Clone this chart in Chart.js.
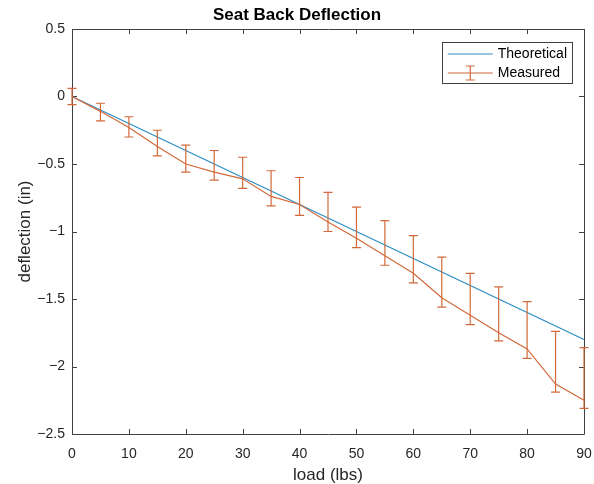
<!DOCTYPE html>
<html><head><meta charset="utf-8">
<script src="https://cdn.jsdelivr.net/npm/chart.js@4.4.0/dist/chart.umd.min.js"></script>
<style>html,body{margin:0;padding:0;background:#fff;}canvas{display:block;}</style>
</head><body>
<canvas id="c" width="594" height="484"></canvas>
<script>
// ---- data ----
const loads = [0, 5, 10, 15, 20, 25, 30, 35, 40, 45, 50, 55, 60, 65, 70, 75, 80, 85, 90];
const theoretical = [0, -0.1, -0.2, -0.3, -0.4, -0.5, -0.6, -0.7, -0.8, -0.9, -1.0, -1.1, -1.2, -1.3, -1.4, -1.5, -1.6, -1.7, -1.8];
const measured = [0, -0.11, -0.23, -0.37, -0.50, -0.56, -0.61, -0.74, -0.80, -0.93, -1.05, -1.18, -1.31, -1.49, -1.62, -1.75, -1.87, -2.13, -2.25];
const measuredUpper = [0.06, -0.05, -0.15, -0.25, -0.36, -0.40, -0.45, -0.55, -0.60, -0.71, -0.82, -0.92, -1.03, -1.19, -1.31, -1.41, -1.52, -1.74, -1.86];
const measuredLower = [-0.06, -0.18, -0.30, -0.44, -0.56, -0.62, -0.68, -0.81, -0.88, -1.00, -1.12, -1.25, -1.38, -1.56, -1.69, -1.81, -1.94, -2.19, -2.31];
const xTickValues = [0, 10, 20, 30, 40, 50, 60, 70, 80, 90];
const xTickLabels = ['0', '10', '20', '30', '40', '50', '60', '70', '80', '90'];
const yTickValues = [0.5, 0, -0.5, -1, -1.5, -2, -2.5];
const yTickLabels = ['0.5', '0', '\u22120.5', '\u22121', '\u22121.5', '\u22122', '\u22122.5'];
const seriesNames = ['Theoretical', 'Measured'];
const chartTitle = 'Seat Back Deflection';
const xTitle = 'load (lbs)';
const yTitle = 'deflection (in)';

// ---- styles ----
const FONT = "'Liberation Sans', Arial, Helvetica, sans-serif";
const BLUE = '#2B8CC4';
const ORANGE = '#D2693A';
const AXIS = '#404040';
const TEXT = '#262626';
const TICK_LEN = 5;
const CAP = 4.5;

const boxPlugin = {
  id: 'matlabBox',
  beforeDatasetsDraw(chart) {
    const {ctx, chartArea: a, scales: {x, y}} = chart;
    ctx.save();
    ctx.strokeStyle = AXIS;
    ctx.lineWidth = 1;
    ctx.beginPath();
    ctx.rect(Math.round(a.left) + 0.5, Math.round(a.top) + 0.5, Math.round(a.right - a.left), Math.round(a.bottom - a.top));
    xTickValues.forEach(v => {
      const px = Math.round(x.getPixelForValue(v)) + 0.5;
      ctx.moveTo(px, a.bottom); ctx.lineTo(px, a.bottom - TICK_LEN);
      ctx.moveTo(px, a.top); ctx.lineTo(px, a.top + TICK_LEN);
    });
    yTickValues.forEach(v => {
      const py = Math.round(y.getPixelForValue(v)) + 0.5;
      ctx.moveTo(a.left, py); ctx.lineTo(a.left + TICK_LEN, py);
      ctx.moveTo(a.right, py); ctx.lineTo(a.right - TICK_LEN, py);
    });
    ctx.stroke();
    ctx.restore();
  },
  afterDatasetsDraw(chart) {
    const {ctx, chartArea: a, scales: {x, y}} = chart;
    ctx.save();
    // error bars
    ctx.strokeStyle = ORANGE;
    ctx.lineWidth = 1.2;
    ctx.beginPath();
    loads.forEach((l, i) => {
      const px = x.getPixelForValue(l);
      const pt = y.getPixelForValue(measuredUpper[i]);
      const pb = y.getPixelForValue(measuredLower[i]);
      ctx.moveTo(px, pt); ctx.lineTo(px, pb);
      ctx.moveTo(px - CAP, pt); ctx.lineTo(px + CAP, pt);
      ctx.moveTo(px - CAP, pb); ctx.lineTo(px + CAP, pb);
    });
    ctx.stroke();

    // legend
    ctx.font = '14px ' + FONT;
    const tw = Math.max(...seriesNames.map(s => ctx.measureText(s).width));
    const sample = 45, pad = 6, gap = 5;
    const w = pad + sample + gap + tw + 5;
    const right = a.right - 12;
    const left = right - w;
    const top = a.top + 13;
    const h = 41;
    ctx.fillStyle = '#fff';
    ctx.fillRect(left, top, w, h);
    ctx.strokeStyle = AXIS;
    ctx.lineWidth = 1;
    ctx.strokeRect(Math.round(left) + 0.5, Math.round(top) + 0.5, Math.round(w), h);
    const rows = [top + 12, top + 31];
    const colors = [BLUE, ORANGE];
    rows.forEach((ry, i) => {
      ctx.strokeStyle = colors[i];
      ctx.lineWidth = 1.2;
      ctx.beginPath();
      ctx.moveTo(left + pad, ry); ctx.lineTo(left + pad + sample, ry);
      if (i === 1) {
        const cx = left + pad + sample / 2;
        ctx.moveTo(cx, ry - 7); ctx.lineTo(cx, ry + 7);
        ctx.moveTo(cx - CAP, ry - 7); ctx.lineTo(cx + CAP, ry - 7);
        ctx.moveTo(cx - CAP, ry + 7); ctx.lineTo(cx + CAP, ry + 7);
      }
      ctx.stroke();
      ctx.fillStyle = '#000';
      ctx.textAlign = 'left';
      ctx.textBaseline = 'middle';
      ctx.fillText(seriesNames[i], left + pad + sample + gap, ry);
    });
    ctx.restore();
  }
};

const toPts = arr => loads.map((l, i) => ({x: l, y: arr[i]}));

new Chart(document.getElementById('c'), {
  type: 'line',
  data: {
    datasets: [
      {label: seriesNames[1], data: toPts(measured), borderColor: ORANGE, borderWidth: 1.2, pointRadius: 0, tension: 0, order: 0, clip: false},
      {label: seriesNames[0], data: toPts(theoretical), borderColor: BLUE, borderWidth: 1.2, pointRadius: 0, tension: 0, order: 1, clip: false}
    ]
  },
  options: {
    responsive: false,
    animation: false,
    devicePixelRatio: 1,
    layout: {padding: {left: 0, right: 0, top: 0, bottom: 0}},
    plugins: {
      legend: {display: false},
      tooltip: {enabled: false},
      title: {display: true, text: chartTitle, color: '#000', font: {family: FONT, size: 17, weight: 'bold'}, padding: {top: 5.5, bottom: 3.1}}
    },
    scales: {
      x: {
        type: 'linear', min: 0, max: 90,
        afterBuildTicks: s => { s.ticks = xTickValues.map(v => ({value: v})); },
        afterFit: s => { s.height = 50; s.paddingRight = 10; s.paddingLeft = 0; },
        grid: {display: false, drawTicks: false},
        border: {display: false},
        ticks: {color: TEXT, font: {family: FONT, size: 14}, padding: 12, maxRotation: 0,
          callback: (v, i) => xTickLabels[xTickValues.indexOf(v)]},
        title: {display: true, text: xTitle, color: TEXT, font: {family: FONT, size: 17}, padding: {top: 0, bottom: -2}}
      },
      y: {
        type: 'linear', min: -2.5, max: 0.5,
        afterBuildTicks: s => { s.ticks = yTickValues.map(v => ({value: v})); },
        afterFit: s => { s.width = 72; },
        grid: {display: false, drawTicks: false},
        border: {display: false},
        ticks: {color: TEXT, font: {family: FONT, size: 14}, padding: 7,
          callback: (v) => yTickLabels[yTickValues.indexOf(v)]},
        title: {display: true, text: yTitle, color: TEXT, font: {family: FONT, size: 17}, padding: {top: 15, bottom: 0}}
      }
    }
  },
  plugins: [boxPlugin]
});
</script>
</body></html>
